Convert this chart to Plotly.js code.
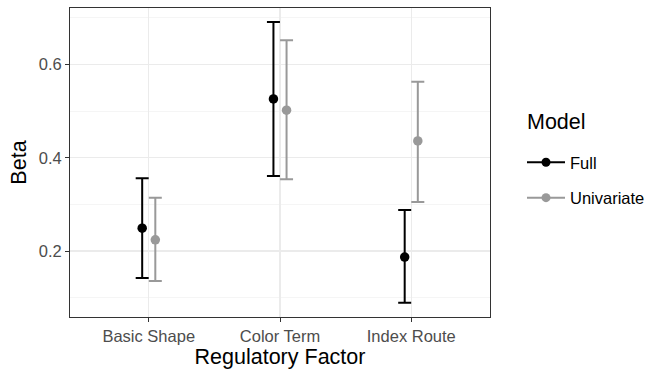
<!DOCTYPE html>
<html><head><meta charset="utf-8">
<script src="https://cdn.plot.ly/plotly-3.0.1.min.js"></script>
<style>html,body{margin:0;padding:0;background:#fff}#chart{width:649px;height:373px}</style>
</head><body><div id="chart"></div>
<script>
const categories = ["Basic Shape", "Color Term", "Index Route"];
const fullBeta = [0.249, 0.526, 0.187];
const fullLower = [0.142, 0.361, 0.089];
const fullUpper = [0.356, 0.691, 0.288];
const uniBeta = [0.224, 0.502, 0.436];
const uniLower = [0.136, 0.354, 0.305];
const uniUpper = [0.314, 0.652, 0.563];

const dodge = 0.05;
const idx = categories.map((c, i) => i + 1);

function series(name, beta, lo, hi, color, off) {
  return {
    type: 'scatter', mode: 'markers', name: name, showlegend: false,
    x: idx.map(v => v + off), y: beta,
    marker: {color: color, size: 9.5},
    error_y: {type: 'data', symmetric: false,
      array: hi.map((h, i) => h - beta[i]),
      arrayminus: lo.map((l, i) => beta[i] - l),
      color: color, thickness: 2, width: 6.5}
  };
}
function legendTrace(name, color, grp) {
  return {type: 'scatter', mode: 'lines+markers', name: name, x: [null], y: [null],
    legendgroup: grp,
    line: {color: color, width: 2}, marker: {color: color, size: 9}};
}

const data = [
  series('Full', fullBeta, fullLower, fullUpper, '#000000', -dodge),
  series('Univariate', uniBeta, uniLower, uniUpper, '#999999', dodge),
  legendTrace('Full', '#000000', 'g1'),
  legendTrace('Univariate', '#999999', 'g2')
];

const layout = {
  width: 649, height: 373,
  margin: {l: 70, r: 159, t: 8, b: 56},
  paper_bgcolor: '#fff', plot_bgcolor: '#fff',
  font: {family: 'Liberation Sans, Arial, sans-serif', color: '#000'},
  xaxis: {
    range: [0.4, 3.6], tickvals: idx, ticktext: categories,
    showgrid: true, gridcolor: '#ebebeb', gridwidth: 1.2, zeroline: false,
    ticks: 'outside', ticklen: 4, tickcolor: '#333', tickwidth: 1,
    tickfont: {size: 16.5, color: '#4d4d4d'},
    showline: true, linecolor: '#333', linewidth: 1, mirror: true,
    title: {text: 'Regulatory Factor', font: {size: 21.5, color: '#000'}, standoff: 2}
  },
  yaxis: {
    range: [0.0586, 0.721], tickvals: [0.2, 0.4, 0.6], ticktext: ['0.2', '0.4', '0.6'],
    showgrid: true, gridcolor: '#ebebeb', gridwidth: 1.2, zeroline: false,
    minor: {tickvals: [0.1, 0.3, 0.5, 0.7], showgrid: true, gridcolor: '#f2f2f2', gridwidth: 0.8, ticks: ''},
    ticks: 'outside', ticklen: 4, tickcolor: '#333', tickwidth: 1,
    tickfont: {size: 16.5, color: '#4d4d4d'},
    showline: true, linecolor: '#333', linewidth: 1, mirror: true,
    title: {text: 'Beta', font: {size: 21.5, color: '#000'}, standoff: 6}
  },
  showlegend: true,
  legend: {
    xref: 'container', yref: 'container',
    x: 522 / 649, xanchor: 'left', y: 1 - 145 / 373, yanchor: 'top',
    font: {size: 16.5, color: '#000'}, itemwidth: 38, tracegroupgap: 11,
    traceorder: 'grouped',
    bgcolor: 'rgba(0,0,0,0)'
  },
  annotations: [{
    text: 'Model', xref: 'paper', yref: 'paper',
    x: (525 - 70) / 420, y: (317 - 122) / 309, xanchor: 'left', yanchor: 'middle',
    showarrow: false, font: {size: 21.5, color: '#000'}
  }]
};

Plotly.newPlot('chart', data, layout, {displayModeBar: false, staticPlot: true});
</script></body></html>
